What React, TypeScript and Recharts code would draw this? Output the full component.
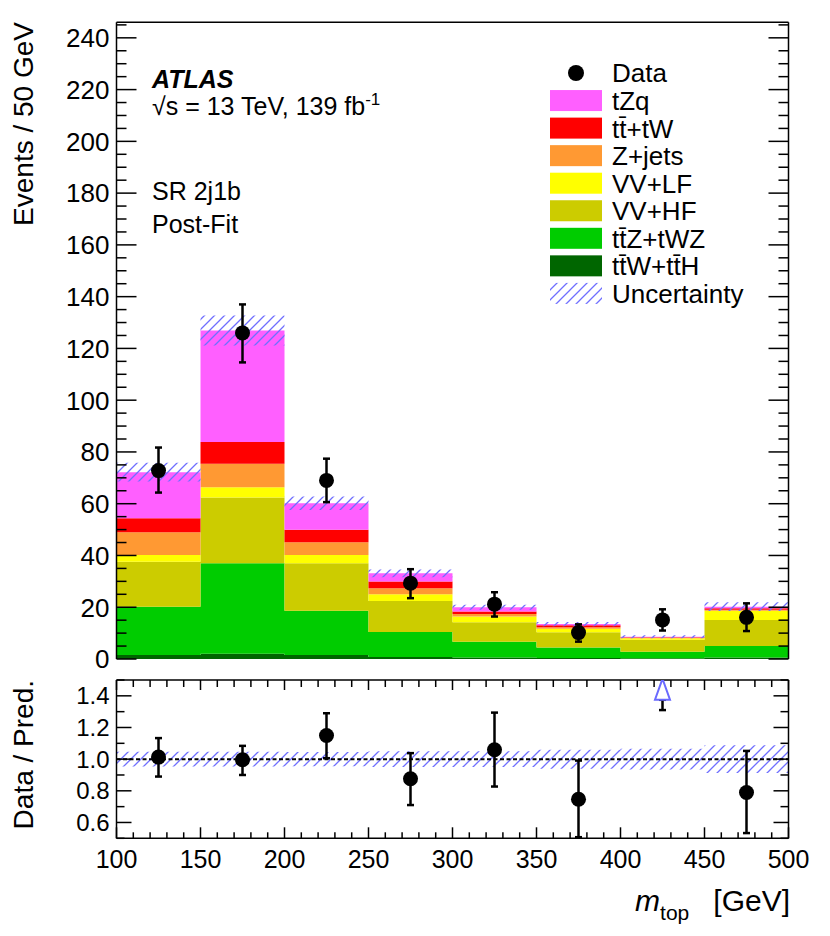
import React from "react";
import {
  ComposedChart,
  Area,
  Scatter,
  ErrorBar,
  XAxis,
  YAxis,
  ReferenceLine,
} from "recharts";

const FONT = "'Liberation Sans', Arial, Helvetica, sans-serif";

// m_top bins (GeV). The last edge repeats the last bin so the step closes.
const BIN_EDGES = [100, 150, 200, 250, 300, 350, 400, 450, 500];
const BIN_CENTERS = [125, 175, 225, 275, 325, 375, 425, 475];

// post-fit yields per bin
const TTW_TTH = [1.5, 2.0, 1.5, 0.8, 0.6, 0.4, 0.3, 0.6];
const TTZ_TWZ = [18.7, 35.0, 17.1, 9.6, 6.1, 4.0, 2.5, 4.4];
const VV_HF = [17.4, 25.4, 18.4, 12.0, 7.5, 5.9, 4.6, 10.1];
const VV_LF = [2.6, 4.0, 3.2, 2.6, 2.2, 1.4, 0.6, 3.5];
const Z_JETS = [8.8, 9.0, 4.9, 2.3, 1.0, 0.6, 0.2, 0.4];
const TT_TW = [5.4, 8.4, 4.8, 2.6, 1.0, 0.7, 0.2, 0.6];
const TZQ = [17.8, 43.1, 10.3, 3.2, 1.6, 0.5, 0.2, 0.6];
const TOTAL_UNC = [3.6, 5.8, 2.6, 1.5, 1.0, 0.8, 0.6, 1.7];

// observed data
const DATA = [72.8, 126, 69, 29.3, 21.2, 10.2, 15.1, 16.1];
const DATA_ERR_LO = [8.5, 11.4, 8.4, 5.8, 4.8, 3.5, 4.1, 5.3];
const DATA_ERR_HI = [8.9, 11.0, 8.4, 5.4, 4.6, 3.2, 4.1, 5.4];

// ratio panel (bin 7 is off scale, drawn as an arrow)
const RATIO = [1.013, 0.996, 1.149, 0.876, 1.059, 0.747, null, 0.789];
const RATIO_ERR_LO = [0.123, 0.096, 0.143, 0.166, 0.232, 0.24, 0, 0.256];
const RATIO_ERR_HI = [0.12, 0.088, 0.141, 0.162, 0.235, 0.244, 0, 0.263];
const RATIO_BAND = [0.047, 0.046, 0.045, 0.05, 0.05, 0.06, 0.065, 0.088];
const OFFSCALE_X = [425];
const OFFSCALE_Y = [1.375];
const OFFSCALE_ERR = [0.065];

// axes
const X_MAJOR = [100, 150, 200, 250, 300, 350, 400, 450, 500];
const X_MINOR = Array.from({ length: 41 }, (_, i) => 100 + i * 10);
const Y_MAJOR = [0, 20, 40, 60, 80, 100, 120, 140, 160, 180, 200, 220, 240];
const Y_MINOR = Array.from({ length: 50 }, (_, i) => i * 5);
const R_MAJOR = [0.6, 0.8, 1.0, 1.2, 1.4];
const R_MINOR = [0.5, 0.6, 0.7, 0.8, 0.9, 1.0, 1.1, 1.2, 1.3, 1.4, 1.5];

// bottom to top of the stack
const STACK = [
  { key: "ttw", label: "tt\u0304W+tt\u0304H", color: "#006600", values: TTW_TTH },
  { key: "ttz", label: "tt\u0304Z+tWZ", color: "#00cc00", values: TTZ_TWZ },
  { key: "vvhf", label: "VV+HF", color: "#cccc00", values: VV_HF },
  { key: "vvlf", label: "VV+LF", color: "#ffff00", values: VV_LF },
  { key: "zjets", label: "Z+jets", color: "#ff9933", values: Z_JETS },
  { key: "tt", label: "tt\u0304+tW", color: "#ff0000", values: TT_TW },
  { key: "tzq", label: "tZq", color: "#ff5fff", values: TZQ },
];

const HATCH = "#6f6fff";

// frame geometry (page pixels)
const PLOT_LEFT = 116.5;
const PLOT_RIGHT = 788.5;
const PLOT_W = PLOT_RIGHT - PLOT_LEFT;
const UP_TOP = 22.3;
const UP_BOTTOM = 659;
const LO_TOP = 680;
const LO_BOTTOM = 838.3;

const stackRows = BIN_EDGES.map((x, i) => {
  const b = Math.min(i, BIN_CENTERS.length - 1);
  const row: Record<string, any> = { x };
  let total = 0;
  STACK.forEach((s) => {
    row[s.key] = s.values[b];
    total += s.values[b];
  });
  row.band = [total - TOTAL_UNC[b], total + TOTAL_UNC[b]];
  return row;
});

const ratioRows = BIN_EDGES.map((x, i) => {
  const b = Math.min(i, BIN_CENTERS.length - 1);
  return { x, band: [1 - RATIO_BAND[b], 1 + RATIO_BAND[b]] };
});

const dataPoints = BIN_CENTERS.map((x, i) => ({
  x,
  y: DATA[i],
  err: [DATA_ERR_LO[i], DATA_ERR_HI[i]],
}));

const ratioPoints = BIN_CENTERS.map((x, i) => ({
  x,
  y: RATIO[i],
  err: [RATIO_ERR_LO[i], RATIO_ERR_HI[i]],
})).filter((p) => p.y !== null);

const arrowPoints = OFFSCALE_X.map((x, i) => ({
  x,
  y: OFFSCALE_Y[i],
  err: [OFFSCALE_ERR[i], 0],
}));

const LINE = { stroke: "#000", strokeWidth: 1.5 };
const isMajor = (v: number, majors: number[]) => majors.some((m) => Math.abs(m - v) < 1e-6);

function DataDot(props: any) {
  const { cx, cy } = props;
  return <circle cx={cx} cy={cy} r={7.5} fill="#000" />;
}

function UpArrow(props: any) {
  const { cx, cy } = props;
  return (
    <polygon
      points={`${cx},${cy - 21} ${cx - 7.5},${cy} ${cx + 7.5},${cy}`}
      fill="#fff"
      stroke="#6a6aff"
      strokeWidth={2}
    />
  );
}

// ROOT style: ticks inside the frame on both opposite sides, drawn from the
// bottom / left axis ticks
function xTicks(o: { plotH: number; bot: number[]; top: number[]; labels?: boolean }) {
  return (props: any) => {
    const { x, y, payload } = props;
    const major = isMajor(payload.value, X_MAJOR);
    const b = major ? o.bot[0] : o.bot[1];
    const t = major ? o.top[0] : o.top[1];
    const top = y - o.plotH;
    return (
      <g>
        <line x1={x} x2={x} y1={y} y2={y - b} {...LINE} />
        <line x1={x} x2={x} y1={top} y2={top + t} {...LINE} />
        {o.labels && major && (
          <text x={x} y={y + 30} textAnchor="middle" fontSize={25} fontFamily={FONT} fill="#000">
            {payload.value}
          </text>
        )}
      </g>
    );
  };
}

function yTicks(o: { majors: number[]; len: number[]; fontSize: number; fmt: (v: number) => string }) {
  return (props: any) => {
    const { x, y, payload } = props;
    const major = isMajor(payload.value, o.majors);
    const l = major ? o.len[0] : o.len[1];
    const right = x + PLOT_W;
    return (
      <g>
        <line x1={x} x2={x + l} y1={y} y2={y} {...LINE} />
        <line x1={right} x2={right - l} y1={y} y2={y} {...LINE} />
        {major && (
          <text
            x={x - 7}
            y={y + o.fontSize * 0.36}
            textAnchor="end"
            fontSize={o.fontSize}
            fontFamily={FONT}
            fill="#000"
          >
            {o.fmt(payload.value)}
          </text>
        )}
      </g>
    );
  };
}

function Legend() {
  const rowY = (i: number) => 73 + i * 27.55;
  const items = [...STACK].reverse();
  return (
    <g fontSize={26}>
      <circle cx={576} cy={rowY(0)} r={8} fill="#000" />
      <text x={612} y={rowY(0) + 9.4}>Data</text>
      {items.map((s, i) => (
        <g key={s.key}>
          <rect x={550} y={rowY(i + 1) - 10.5} width={52} height={21} fill={s.color} />
          <text x={612} y={rowY(i + 1) + 9.4}>{s.label}</text>
        </g>
      ))}
      <rect x={550} y={rowY(8) - 10.5} width={52} height={21} fill="url(#hatch)" />
      <text x={612} y={rowY(8) + 9.4}>Uncertainty</text>
    </g>
  );
}

export default function App() {
  return (
    <div style={{ position: "absolute", left: 0, top: 0, width: 830, height: 936, background: "#fff" }}>
      <svg width={0} height={0} style={{ position: "absolute" }}>
        <defs>
          <pattern id="hatch" patternUnits="userSpaceOnUse" width={10} height={10}>
            <path d="M-2,2 L2,-2 M0,10 L10,0 M8,12 L12,8" stroke={HATCH} strokeWidth={1.3} />
          </pattern>
        </defs>
      </svg>

      <div style={{ position: "absolute", left: 0, top: 0 }}>
        <ComposedChart
          width={830}
          height={680}
          data={stackRows}
          margin={{ top: UP_TOP, right: 830 - PLOT_RIGHT, bottom: 680 - UP_BOTTOM, left: PLOT_LEFT - 60 }}
        >
          {STACK.map((s) => (
            <Area
              key={s.key}
              type="stepAfter"
              dataKey={s.key}
              stackId="mc"
              fill={s.color}
              fillOpacity={1}
              stroke="none"
              dot={false}
              activeDot={false}
              isAnimationActive={false}
            />
          ))}
          <Area
            type="stepAfter"
            dataKey="band"
            fill="url(#hatch)"
            fillOpacity={1}
            stroke="none"
            dot={false}
            activeDot={false}
            isAnimationActive={false}
          />
          <Scatter data={dataPoints} dataKey="y" shape={DataDot} isAnimationActive={false}>
            <ErrorBar dataKey="err" direction="y" width={3.5} stroke="#000" strokeWidth={2.5} isAnimationActive={false} />
          </Scatter>
          <ReferenceLine x={500} {...LINE} />
          <ReferenceLine y={246} {...LINE} />
          <XAxis
            dataKey="x"
            type="number"
            domain={[100, 500]}
            allowDataOverflow
            ticks={X_MINOR}
            interval={0}
            height={0}
            tickSize={0}
            tickMargin={0}
            tickLine={false}
            axisLine={LINE}
            tick={xTicks({ plotH: UP_BOTTOM - UP_TOP, bot: [18, 9], top: [16, 8] })}
          />
          <YAxis
            type="number"
            domain={[0, 246]}
            allowDataOverflow
            ticks={Y_MINOR}
            interval={0}
            width={60}
            tickSize={0}
            tickMargin={0}
            tickLine={false}
            axisLine={LINE}
            tick={yTicks({ majors: Y_MAJOR, len: [20, 10], fontSize: 26, fmt: (v) => String(v) })}
          />
        </ComposedChart>
      </div>

      <div style={{ position: "absolute", left: 0, top: 660 }}>
        <ComposedChart
          width={830}
          height={276}
          data={ratioRows}
          margin={{ top: LO_TOP - 660, right: 830 - PLOT_RIGHT, bottom: 936 - LO_BOTTOM - 40, left: PLOT_LEFT - 60 }}
        >
          <Area
            type="stepAfter"
            dataKey="band"
            fill="url(#hatch)"
            fillOpacity={1}
            stroke="none"
            dot={false}
            activeDot={false}
            isAnimationActive={false}
          />
          <ReferenceLine y={1} stroke="#000" strokeWidth={2} strokeDasharray="4 2.5" />
          <Scatter data={ratioPoints} dataKey="y" shape={DataDot} isAnimationActive={false}>
            <ErrorBar dataKey="err" direction="y" width={3.5} stroke="#000" strokeWidth={2.5} isAnimationActive={false} />
          </Scatter>
          <Scatter data={arrowPoints} dataKey="y" shape={UpArrow} isAnimationActive={false}>
            <ErrorBar dataKey="err" direction="y" width={3.5} stroke="#000" strokeWidth={2.5} isAnimationActive={false} />
          </Scatter>
          <ReferenceLine x={500} {...LINE} />
          <ReferenceLine y={1.5} {...LINE} />
          <XAxis
            dataKey="x"
            type="number"
            domain={[100, 500]}
            allowDataOverflow
            ticks={X_MINOR}
            interval={0}
            height={40}
            tickSize={0}
            tickMargin={0}
            tickLine={false}
            axisLine={LINE}
            tick={xTicks({ plotH: LO_BOTTOM - LO_TOP, bot: [11, 6], top: [10, 7], labels: true })}
          />
          <YAxis
            type="number"
            domain={[0.5, 1.5]}
            allowDataOverflow
            ticks={R_MINOR}
            interval={0}
            width={60}
            tickSize={0}
            tickMargin={0}
            tickLine={false}
            axisLine={LINE}
            tick={yTicks({ majors: R_MAJOR, len: [15, 8], fontSize: 24, fmt: (v) => v.toFixed(1) })}
          />
        </ComposedChart>
      </div>

      <svg
        width={830}
        height={936}
        style={{ position: "absolute", left: 0, top: 0, pointerEvents: "none" }}
        fontFamily={FONT}
      >
        <text transform="translate(33,22) rotate(-90)" textAnchor="end" fontSize={28}>
          Events / 50 GeV
        </text>
        <text transform="translate(33,680) rotate(-90)" textAnchor="end" fontSize={28}>
          Data / Pred.
        </text>
        <text x={152} y={88} fontSize={25} fontWeight="bold" fontStyle="italic">
          ATLAS
        </text>
        <text x={152} y={115} fontSize={25}>
          √s = 13 TeV, 139 fb<tspan fontSize={17} dy={-10}>-1</tspan>
        </text>
        <text x={152} y={200} fontSize={25}>SR 2j1b</text>
        <text x={152} y={233} fontSize={25}>Post-Fit</text>
        <text x={790} y={911} textAnchor="end" fontSize={30}>
          <tspan fontStyle="italic">m</tspan>
          <tspan fontSize={21} dy={9}>top</tspan>
          <tspan dy={-9} dx={24}>[GeV]</tspan>
        </text>
        <Legend />
      </svg>
    </div>
  );
}
